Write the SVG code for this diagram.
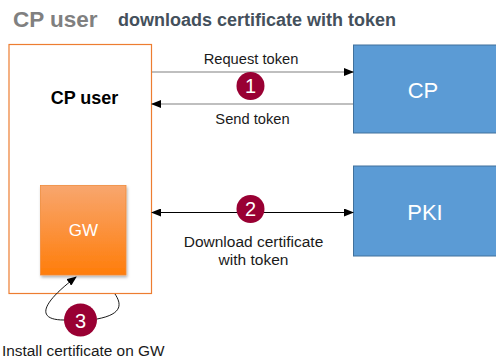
<svg xmlns="http://www.w3.org/2000/svg" width="496" height="361" viewBox="0 0 496 361">
<style>
.lbl{font-family:"Liberation Sans",Arial,sans-serif;font-size:14.7px;fill:#1a1a1a;text-anchor:middle}
.num{font-family:"Liberation Sans",Arial,sans-serif;font-size:20px;fill:#fff;text-anchor:middle}
.box{fill:#5B9BD5;stroke:#41719C;stroke-width:1}
.big{font-family:"Liberation Sans",Arial,sans-serif;font-size:22px;fill:#fff;text-anchor:middle}
.badge{fill:#990033}
</style>
<defs>
<linearGradient id="gw" x1="0" y1="0" x2="0" y2="1">
<stop offset="0" stop-color="#F8A66E"/>
<stop offset="1" stop-color="#FF7D0A"/>
</linearGradient>
<filter id="sh" x="-10%" y="-10%" width="130%" height="130%">
<feDropShadow dx="1" dy="2" stdDeviation="1.5" flood-color="#000" flood-opacity="0.3"/>
</filter>
<marker id="ah" markerWidth="10" markerHeight="8" refX="9" refY="4" orient="auto" markerUnits="userSpaceOnUse">
<path d="M0,0 L10,4 L0,8 Z" fill="#000"/>
</marker>
<marker id="ahs" markerWidth="10" markerHeight="8" refX="1" refY="4" orient="auto" markerUnits="userSpaceOnUse">
<path d="M10,0 L0,4 L10,8 Z" fill="#000"/>
</marker>
</defs>
<rect width="496" height="361" fill="#fff"/>
<text x="13" y="27" font-family="'Liberation Sans',Arial,sans-serif" font-size="22.5" font-weight="bold" fill="#808080">CP user</text>
<text x="118" y="26" font-family="'Liberation Sans',Arial,sans-serif" font-size="18" font-weight="bold" fill="#44505C">downloads certificate with token</text>

<g id="cpuser">
<rect x="9" y="44.5" width="142.5" height="249" fill="#fff" stroke="#ED7D31" stroke-width="1.2"/>
<text x="84.5" y="103.5" font-family="'Liberation Sans',Arial,sans-serif" font-size="18" font-weight="bold" fill="#000" text-anchor="middle">CP user</text>
</g>
<g id="gw">
<rect x="40.5" y="185.5" width="85.5" height="89.5" fill="url(#gw)" stroke="#F08A3A" stroke-width="0.8" filter="url(#sh)"/>
<text x="83.5" y="236" font-family="'Liberation Sans',Arial,sans-serif" font-size="17" fill="#fff" text-anchor="middle">GW</text>
</g>
<g id="cp">
<rect class="box" x="353.5" y="45" width="150" height="88"/>
<text class="big" x="423" y="98">CP</text>
</g>
<g id="pki">
<rect class="box" x="353.5" y="166" width="150" height="90"/>
<text class="big" x="425" y="220">PKI</text>
</g>

<g id="connectors">
<line x1="152" y1="72" x2="353" y2="72" stroke="#808080" stroke-width="1.2" marker-end="url(#ah)"/>
<line x1="353" y1="104" x2="152" y2="104" stroke="#808080" stroke-width="1.2" marker-end="url(#ah)"/>
<line x1="152" y1="212.5" x2="353" y2="212.5" stroke="#000" stroke-width="1.2" marker-start="url(#ahs)" marker-end="url(#ah)"/>
<path d="M115,294 C121,303 124,314 97,319" fill="none" stroke="#000" stroke-width="0.9"/>
<path d="M64,320 C38,320 38,306 76,277" fill="none" stroke="#000" stroke-width="0.9" marker-end="url(#ah)"/>
</g>

<g id="labels">
<text class="lbl" x="251" y="64">Request token</text>
<text class="lbl" x="252.5" y="124">Send token</text>
<text class="lbl" x="253.5" y="247" style="font-size:15.5px">Download certificate</text>
<text class="lbl" x="253.5" y="265" style="font-size:15.5px">with token</text>
<text x="2" y="356" font-family="'Liberation Sans',Arial,sans-serif" font-size="15.4" fill="#1a1a1a">Install certificate on GW</text>
</g>

<g id="badge1"><circle class="badge" cx="250.5" cy="86" r="14"/><text class="num" x="250.5" y="93">1</text></g>
<g id="badge2"><circle class="badge" cx="250.5" cy="209" r="14"/><text class="num" x="250.5" y="216">2</text></g>
<g id="badge3"><circle class="badge" cx="80.5" cy="320" r="16.5"/><text class="num" x="80.5" y="327.5">3</text></g>
</svg>
